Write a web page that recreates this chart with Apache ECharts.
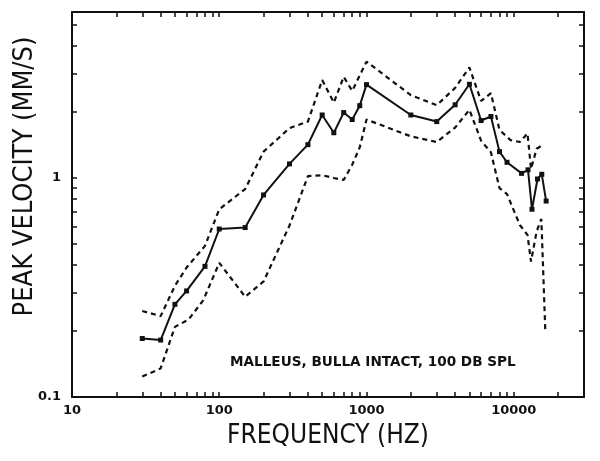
<!DOCTYPE html>
<html><head><meta charset="utf-8">
<script src="https://cdn.jsdelivr.net/npm/echarts@6/dist/echarts.min.js"></script>
<style>html,body{margin:0;padding:0;background:#fff}#c{width:600px;height:461px}</style>
</head><body><div id="c"></div>
<script>
// Mean peak velocity (solid line with markers)
const meanFreq = [30, 40, 50, 60, 80, 100, 150, 200, 300, 400, 500, 600, 700, 800, 900, 1000, 2000, 3000, 4000, 5000, 6000, 7000, 8000, 9000, 11300, 12500, 13300, 14500, 15500, 16600];
const meanVel  = [0.185, 0.182, 0.265, 0.305, 0.395, 0.585, 0.594, 0.837, 1.16, 1.42, 1.94, 1.61, 1.99, 1.85, 2.14, 2.67, 1.94, 1.81, 2.16, 2.68, 1.83, 1.91, 1.32, 1.18, 1.05, 1.09, 0.72, 0.99, 1.04, 0.785];
// Upper bound (dashed)
const upperFreq = [30, 40, 50, 60, 80, 100, 150, 200, 300, 400, 500, 600, 700, 800, 1000, 2000, 3000, 4000, 5000, 6000, 7000, 8000, 9500, 11000, 12400, 13100, 14300, 15800];
const upperVel  = [0.247, 0.234, 0.322, 0.39, 0.49, 0.72, 0.89, 1.32, 1.69, 1.81, 2.8, 2.21, 2.9, 2.5, 3.4, 2.39, 2.15, 2.58, 3.2, 2.25, 2.44, 1.66, 1.49, 1.46, 1.6, 1.1, 1.36, 1.42];
// Lower bound (dashed)
const lowerFreq = [30, 40, 50, 62, 78, 100, 150, 200, 300, 400, 500, 600, 700, 800, 900, 1000, 2000, 3000, 4000, 5000, 6000, 7000, 8000, 9000, 11000, 12400, 13100, 14300, 15400, 16400];
const lowerVel  = [0.124, 0.135, 0.209, 0.226, 0.277, 0.41, 0.287, 0.337, 0.607, 1.02, 1.03, 1.0, 0.98, 1.15, 1.38, 1.85, 1.55, 1.46, 1.7, 2.05, 1.48, 1.31, 0.9, 0.845, 0.61, 0.55, 0.415, 0.57, 0.65, 0.196];

const xLabelValues = [10, 100, 1000, 10000];
const yLabelValues = [0.1, 1];
const xTickValues = [10, 20, 30, 40, 50, 60, 70, 80, 90, 100, 200, 300, 400, 500, 600, 700, 800, 900, 1000, 2000, 3000, 4000, 5000, 6000, 7000, 8000, 9000, 10000, 20000];
const yTickValues = [0.1, 0.2, 0.3, 0.4, 0.5, 0.6, 0.7, 0.8, 0.9, 1, 2, 3, 4, 5];

const xTitle = 'FREQUENCY (HZ)';
const yTitle = 'PEAK VELOCITY (MM/S)';
const note = 'MALLEUS, BULLA INTACT, 100 DB SPL';

const pairs = (xs, ys) => xs.map((x, i) => [x, ys[i]]);
const fmt = v => v >= 1 ? String(Math.round(v)) : String(+(+v).toPrecision(2));
const ink = '#111';
const tickFont = {color: ink, fontFamily: 'DejaVu Sans', fontWeight: 'bold', fontSize: 13};
const titleFont = {color: ink, fontFamily: 'DejaVu Sans Condensed', fontSize: 26};

function xAx(pos, show) {
  return {
    type: 'log', position: pos, min: 10, max: 30000, logBase: 10,
    axisLine: {show: true, onZero: false, lineStyle: {color: ink, width: 2}},
    axisTick: {show: true, inside: true, length: 5, lineStyle: {color: ink, width: 1.5}, customValues: xTickValues},
    axisLabel: {show: show, customValues: xLabelValues, margin: 7, formatter: fmt, ...tickFont},
    splitLine: {show: false},
    name: show ? xTitle : '', nameLocation: 'middle', nameGap: 26, nameMoveOverlap: false,
    nameTextStyle: titleFont
  };
}
function yAx(pos, show) {
  return {
    type: 'log', position: pos, min: 0.1, max: 5.73, logBase: 10,
    axisLine: {show: true, onZero: false, lineStyle: {color: ink, width: 2}},
    axisTick: {show: true, inside: true, length: 5, lineStyle: {color: ink, width: 1.5}, customValues: yTickValues},
    axisLabel: {show: show, customValues: yLabelValues, margin: 11, formatter: fmt, ...tickFont},
    splitLine: {show: false},
    name: show ? yTitle : '', nameLocation: 'middle', nameGap: 34, nameMoveOverlap: false,
    nameTextStyle: {...titleFont, fontSize: 27, padding: [0, 0, 0, 56]}
  };
}

const chart = echarts.init(document.getElementById('c'), null, {renderer: 'canvas'});
chart.setOption({
  animation: false,
  backgroundColor: '#fff',
  grid: {left: 72, right: 16, top: 12, bottom: 64, containLabel: false, outerBoundsMode: 'none'},
  xAxis: [xAx('bottom', true), xAx('top', false)],
  yAxis: [yAx('left', true), yAx('right', false)],
  graphic: [{
    type: 'text', left: 230, top: 355,
    style: {text: note, fill: ink, font: 'bold 13.6px "DejaVu Sans"'}
  }],
  series: [
    {type: 'line', data: pairs(meanFreq, meanVel), symbol: 'rect', symbolSize: 5,
     itemStyle: {color: ink}, lineStyle: {color: ink, width: 2}},
    {type: 'line', data: pairs(upperFreq, upperVel), symbol: 'none',
     lineStyle: {color: ink, width: 2.2, type: [5, 4]}},
    {type: 'line', data: pairs(lowerFreq, lowerVel), symbol: 'none',
     lineStyle: {color: ink, width: 2.2, type: [5, 4]}}
  ]
});
</script></body></html>
